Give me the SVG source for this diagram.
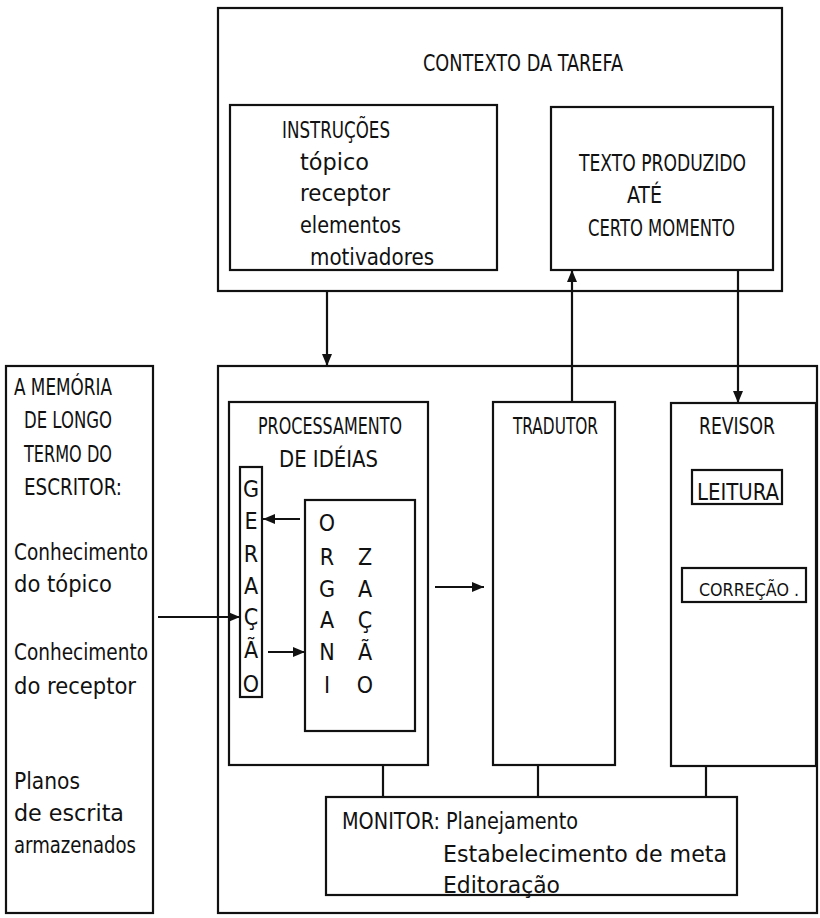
<svg xmlns="http://www.w3.org/2000/svg" width="820" height="918" viewBox="0 0 820 918">
<defs>
<marker id="ah" viewBox="0 0 12 10" refX="12" refY="5" markerWidth="13" markerHeight="10" markerUnits="userSpaceOnUse" orient="auto">
<path d="M0,0 L12,5 L0,10 Z" fill="#111"/>
</marker>
<style>
rect{fill:none;stroke:#111;stroke-width:2.2}
line{stroke:#111;stroke-width:2.2}
text{font-family:"DejaVu Sans Condensed","Liberation Sans Narrow","Liberation Sans",sans-serif;font-size:23px;fill:#111}
.m{text-anchor:middle;font-size:22px}
.arr{marker-end:url(#ah)}
</style>
</defs>
<rect x="0" y="0" width="820" height="918" style="fill:#fff;stroke:none"/>

<g id="contexto">
<rect x="218" y="8" width="564" height="283"/>
<text x="423" y="71" textLength="200" lengthAdjust="spacingAndGlyphs">CONTEXTO DA TAREFA</text>
</g>
<g id="instrucoes">
<rect x="230" y="105" width="267" height="165"/>
<text x="282" y="138" textLength="108" lengthAdjust="spacingAndGlyphs">INSTRUÇÕES</text>
<text x="300" y="170" textLength="69" lengthAdjust="spacingAndGlyphs">tópico</text>
<text x="300" y="201" textLength="90" lengthAdjust="spacingAndGlyphs">receptor</text>
<text x="300" y="233" textLength="101" lengthAdjust="spacingAndGlyphs">elementos</text>
<text x="310" y="265" textLength="124" lengthAdjust="spacingAndGlyphs">motivadores</text>
</g>
<g id="texto">
<rect x="551" y="107" width="222" height="163"/>
<text x="579" y="171" textLength="167" lengthAdjust="spacingAndGlyphs">TEXTO PRODUZIDO</text>
<text x="627" y="203" textLength="35" lengthAdjust="spacingAndGlyphs">ATÉ</text>
<text x="588" y="236" textLength="147" lengthAdjust="spacingAndGlyphs">CERTO MOMENTO</text>
</g>

<g id="memoria">
<rect x="6" y="366" width="147" height="547"/>
<text x="14" y="395" textLength="98" lengthAdjust="spacingAndGlyphs">A MEMÓRIA</text>
<text x="24" y="428" textLength="88" lengthAdjust="spacingAndGlyphs">DE LONGO</text>
<text x="24" y="462" textLength="88" lengthAdjust="spacingAndGlyphs">TERMO DO</text>
<text x="24" y="495" textLength="98" lengthAdjust="spacingAndGlyphs">ESCRITOR:</text>
<text x="14" y="560" textLength="134" lengthAdjust="spacingAndGlyphs">Conhecimento</text>
<text x="14" y="592" textLength="98" lengthAdjust="spacingAndGlyphs">do tópico</text>
<text x="14" y="660" textLength="134" lengthAdjust="spacingAndGlyphs">Conhecimento</text>
<text x="14" y="694" textLength="122" lengthAdjust="spacingAndGlyphs">do receptor</text>
<text x="14" y="789" textLength="66" lengthAdjust="spacingAndGlyphs">Planos</text>
<text x="14" y="821" textLength="110" lengthAdjust="spacingAndGlyphs">de escrita</text>
<text x="14" y="853" textLength="122" lengthAdjust="spacingAndGlyphs">armazenados</text>
</g>

<g id="processo">
<rect x="218" y="366" width="599" height="547"/>
</g>

<g id="processamento">
<rect x="229" y="402" width="199" height="363"/>
<text x="258" y="434" textLength="144" lengthAdjust="spacingAndGlyphs">PROCESSAMENTO</text>
<text x="279" y="467" textLength="99" lengthAdjust="spacingAndGlyphs">DE IDÉIAS</text>
</g>
<g id="geracao">
<rect x="240" y="467" width="22" height="230"/>
<g class="m">
<text x="251" y="497">G</text>
<text x="251" y="529">E</text>
<text x="251" y="562">R</text>
<text x="251" y="594">A</text>
<text x="251" y="625">Ç</text>
<text x="251" y="658">Ã</text>
<text x="251" y="692">O</text>
</g>
</g>
<g id="organizacao">
<rect x="305" y="500" width="110" height="231"/>
<g class="m">
<text x="327" y="531">O</text>
<text x="327" y="565">R</text>
<text x="327" y="597">G</text>
<text x="327" y="628">A</text>
<text x="327" y="660">N</text>
<text x="327" y="693">I</text>
<text x="365" y="565">Z</text>
<text x="365" y="597">A</text>
<text x="365" y="628">Ç</text>
<text x="365" y="660">Ã</text>
<text x="365" y="693">O</text>
</g>
</g>

<g id="tradutor">
<rect x="493" y="402" width="122" height="363"/>
<text x="513" y="434" textLength="85" lengthAdjust="spacingAndGlyphs">TRADUTOR</text>
</g>

<g id="revisor">
<rect x="671" y="403" width="145" height="363"/>
<text x="699" y="434" textLength="76" lengthAdjust="spacingAndGlyphs">REVISOR</text>
<rect x="692" y="470" width="90" height="34"/>
<text x="697" y="500" textLength="82" lengthAdjust="spacingAndGlyphs">LEITURA</text>
<rect x="682" y="568" width="124" height="34"/>
<text x="699" y="596" textLength="100" lengthAdjust="spacingAndGlyphs" style="font-size:18px">CORREÇÃO .</text>
</g>

<g id="monitor">
<rect x="326" y="797" width="411" height="98"/>
<text x="342" y="829" textLength="236" lengthAdjust="spacingAndGlyphs">MONITOR: Planejamento</text>
<text x="443" y="862" textLength="284" lengthAdjust="spacingAndGlyphs">Estabelecimento de meta</text>
<text x="443" y="893" textLength="117" lengthAdjust="spacingAndGlyphs">Editoração</text>
</g>

<g id="connectors">
<line class="arr" x1="327" y1="291" x2="327" y2="366"/>
<line class="arr" x1="572" y1="402" x2="572" y2="270"/>
<line class="arr" x1="738" y1="270" x2="738" y2="403"/>
<line class="arr" x1="158" y1="617" x2="240" y2="617"/>
<line class="arr" x1="300" y1="519" x2="263" y2="519"/>
<line class="arr" x1="268" y1="652" x2="305" y2="652"/>
<line class="arr" x1="435" y1="587" x2="484" y2="587"/>
<line x1="383" y1="765" x2="383" y2="797"/>
<line x1="538" y1="765" x2="538" y2="797"/>
<line x1="706" y1="766" x2="706" y2="797"/>
</g>
</svg>
